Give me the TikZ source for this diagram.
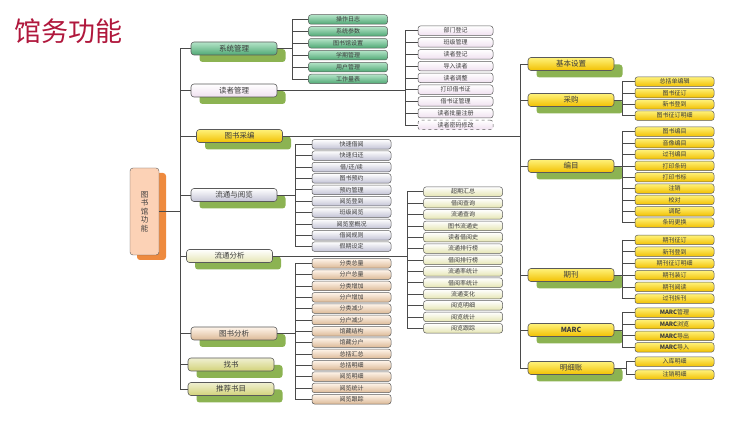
\documentclass[tikz,border=0pt]{standalone}
\usepackage{fontspec}
\setmainfont{Noto Sans CJK SC}
\usetikzlibrary{positioning, shadows}
\definecolor{TitleRed}{HTML}{B0173C}
\definecolor{LinkGray}{HTML}{4A4A4A}
\definecolor{EdgeGray}{HTML}{5A5A5A}
\definecolor{TextGray}{HTML}{3C3C3C}
\definecolor{ShadowGreen}{HTML}{8CB352}
\definecolor{RootFill}{HTML}{FCD2B6}
\definecolor{RootShadow}{HTML}{EE8A3E}
\definecolor{GreenTop}{HTML}{B4E4C8}
\definecolor{GreenBot}{HTML}{4FA874}
\definecolor{GoldTop}{HTML}{FFF27A}
\definecolor{GoldBot}{HTML}{F2C000}
\tikzset{
	link/.style={draw=LinkGray, line width=0.6pt},
	leaf/.style={draw=EdgeGray, line width=0.5pt, rounded corners=2.5pt, minimum width=79pt, minimum height=9.5pt, inner sep=0pt, text=TextGray, font=\fontsize{6}{6}\selectfont},
	branch/.style={draw=EdgeGray, line width=0.6pt, rounded corners=3pt, minimum width=86pt, minimum height=13pt, inner sep=0pt, text=TextGray, font=\fontsize{7.5}{8}\selectfont, drop shadow={shadow xshift=8.5pt, shadow yshift=-7pt, opacity=1, fill=ShadowGreen}},
	greenbox/.style={top color=GreenTop, bottom color=GreenBot},
	lilacbox/.style={top color=white, bottom color=violet!12},
	yellowbox/.style={top color=GoldTop, bottom color=GoldBot},
	bluebox/.style={top color=white, bottom color=blue!18!gray!40},
	beigebox/.style={top color=white, bottom color=olive!20!white},
	tanbox/.style={top color=orange!8, bottom color=brown!55!white},
	khakibox/.style={top color=olive!12, bottom color=olive!35!white},
}
\begin{document}
\begin{tikzpicture}[x=1pt, y=-1pt]
	\useasboundingbox (0,0) rectangle (756,430);
	\node[text=TitleRed, font=\fontsize{27}{27}\selectfont] (title) at (69,31) {馆务功能};
	
	% root
	\node[draw=EdgeGray, fill=RootFill, rounded corners=3pt, minimum width=29pt, minimum height=87pt, inner sep=0pt, align=center, text=TextGray, font=\fontsize{7.5}{8.5}\selectfont, drop shadow={shadow xshift=7pt, shadow yshift=-5pt, opacity=1, fill=RootShadow}] (root) at (144.5,211.5) {图\\书\\馆\\功\\能};
	\coordinate (mainbus) at (180,0);
	
	% first level
	\node[branch, greenbox] (sys) at (234,48.5) {系统管理};
	\node[branch, lilacbox] (rdr) at (234,90.5) {读者管理};
	\node[branch, yellowbox] (acq) at (239.5,136) {图书采编};
	\node[branch, bluebox] (circ) at (234,195) {流通与阅览};
	\node[branch, beigebox] (anl) at (229.5,256) {流通分析};
	\node[branch, tanbox] (stat) at (234,333.5) {图书分析};
	\node[branch, khakibox] (find) at (231,364.5) {找书};
	\node[branch, khakibox] (rec) at (231,389) {推荐书目};
	
	\draw[link] (sys.west -| mainbus) -- (rec.west -| mainbus);
	\draw[link] (root.east) -- (root.east -| mainbus);
	\foreach \n in {sys,rdr,acq,circ,anl,stat,find,rec}{
		\draw[link] (\n.west) -- (\n.west -| mainbus);}
	
	% 系统管理
	\coordinate (sysbus) at (292,0);
	\foreach \t [count=\i] in {操作日志,系统参数,图书馆设置,学期管理,用户管理,工作量表}{
		\node[leaf, greenbox] (sys\i) at (348,{19.5+(\i-1)*11.9}) {\t};
		\draw[link] (sys\i.west) -- (sys\i.west -| sysbus);}
	\draw[link] (sys1.west -| sysbus) -- (sys6.west -| sysbus);
	\draw[link] (sys.east) -- (sys.east -| sysbus);
	
	% 读者管理
	\coordinate (rdrbus) at (405,0);
	\foreach \t [count=\i] in {部门登记,班级管理,读者登记,导入读者,读者调整,打印借书证,借书证管理,读者批量注册}{
		\node[leaf, lilacbox, minimum width=75pt] (rdr\i) at (455.5,{30.7+(\i-1)*11.79}) {\t};
		\draw[link] (rdr\i.west) -- (rdr\i.west -| rdrbus);}
	\node[leaf, lilacbox, minimum width=75pt, dashed] (rdr9) at (455.5,125) {读者密码修改};
	\draw[link] (rdr9.west) -- (rdr9.west -| rdrbus);
	\draw[link] (rdr1.west -| rdrbus) -- (rdr9.west -| rdrbus);
	\draw[link] (rdr.east) -- (rdr.east -| rdrbus);
	
	% 流通与阅览
	\coordinate (circbus) at (295,0);
	\foreach \t [count=\i] in {快速借阅,快速归还,借/还/续,图书预约,预约管理,阅览登到,班级阅览,阅览室概况,借阅规则,假期设定}{
		\node[leaf, bluebox] (circ\i) at (351.5,{144.3+(\i-1)*11.37}) {\t};
		\draw[link] (circ\i.west) -- (circ\i.west -| circbus);}
	\draw[link] (circ1.west -| circbus) -- (circ10.west -| circbus);
	\draw[link] (circ.east) -- (circ.east -| circbus);
	
	% 流通分析
	\coordinate (anlbus) at (407,0);
	\foreach \t [count=\i] in {超期汇总,借阅查询,流通查询,图书流通史,读者借阅史,流通排行榜,借阅排行榜,流通率统计,借阅率统计,流通变化,阅览明细,阅览统计,阅览跟踪}{
		\node[leaf, beigebox] (anl\i) at (463,{191.7+(\i-1)*11.38}) {\t};
		\draw[link] (anl\i.west) -- (anl\i.west -| anlbus);}
	\draw[link] (anl1.west -| anlbus) -- (anl13.west -| anlbus);
	\draw[link] (anl.east) -- (anl.east -| anlbus);
	
	% 图书分析
	\coordinate (statbus) at (295,0);
	\foreach \t [count=\i] in {分类总量,分户总量,分类增加,分户增加,分类减少,分户减少,馆藏结构,馆藏分户,总括汇总,总括明细,阅览明细,阅览统计,阅览跟踪}{
		\node[leaf, tanbox] (stat\i) at (351.5,{263.3+(\i-1)*11.33}) {\t};
		\draw[link] (stat\i.west) -- (stat\i.west -| statbus);}
	\draw[link] (stat1.west -| statbus) -- (stat13.west -| statbus);
	\draw[link] (stat.east) -- (stat.east -| statbus);
	
	% 图书采编
	\coordinate (acqbus) at (520,0);
	\node[branch, yellowbox] (base) at (571,64) {基本设置};
	\node[branch, yellowbox] (buy) at (571,100) {采购};
	\node[branch, yellowbox] (cat) at (571,166) {编目};
	\node[branch, yellowbox] (per) at (571,275) {期刊};
	\node[branch, yellowbox, font=\fontsize{7}{8}\selectfont\bfseries] (marc) at (571,330) {MARC};
	\node[branch, yellowbox] (acc) at (571,368) {明细账};
	\draw[link] (base.west -| acqbus) -- (acc.west -| acqbus);
	\draw[link] (acq.east) -- (acq.east -| acqbus);
	\foreach \n in {base,buy,cat,per,marc,acc}{
		\draw[link] (\n.west) -- (\n.west -| acqbus);}
	
	\coordinate (subbus) at (622,0);
	\foreach \t [count=\i] in {总括单编辑,图书征订,新书登到,图书征订明细}{
		\node[leaf, yellowbox] (buy\i) at (674.5,{81.7+(\i-1)*11.33}) {\t};
		\draw[link] (buy\i.west) -- (buy\i.west -| subbus);}
	\draw[link] (buy1.west -| subbus) -- (buy4.west -| subbus);
	\draw[link] (buy.east) -- (buy.east -| subbus);
	
	\foreach \t [count=\i] in {图书编目,音像编目,过刊编目,打印条码,打印书标,注销,校对,调配,条码更换}{
		\node[leaf, yellowbox] (cat\i) at (674.5,{131.7+(\i-1)*11.37}) {\t};
		\draw[link] (cat\i.west) -- (cat\i.west -| subbus);}
	\draw[link] (cat1.west -| subbus) -- (cat9.west -| subbus);
	\draw[link] (cat.east) -- (cat.east -| subbus);
	
	\foreach \t [count=\i] in {期刊征订,新刊登到,期刊征订明细,期刊装订,期刊阅读,过刊拆刊}{
		\node[leaf, yellowbox] (per\i) at (674.5,{240+(\i-1)*11.74}) {\t};
		\draw[link] (per\i.west) -- (per\i.west -| subbus);}
	\draw[link] (per1.west -| subbus) -- (per6.west -| subbus);
	\draw[link] (per.east) -- (per.east -| subbus);
	
	\foreach \t [count=\i] in {管理,浏览,导出,导入}{
		\node[leaf, yellowbox] (marc\i) at (674.5,{312.7+(\i-1)*11.55}) {{\bfseries MARC}\t};
		\draw[link] (marc\i.west) -- (marc\i.west -| subbus);}
	\draw[link] (marc1.west -| subbus) -- (marc4.west -| subbus);
	\draw[link] (marc.east) -- (marc.east -| subbus);
	
	\coordinate (accbus) at (626,0);
	\foreach \t [count=\i] in {入库明细,注销明细}{
		\node[leaf, yellowbox] (acc\i) at (674.5,{361.7+(\i-1)*13}) {\t};
		\draw[link] (acc\i.west) -- (acc\i.west -| accbus);}
	\draw[link] (acc1.west -| accbus) -- (acc2.west -| accbus);
	\draw[link] (acc.east) -- (acc.east -| accbus);
\end{tikzpicture}
\end{document}
